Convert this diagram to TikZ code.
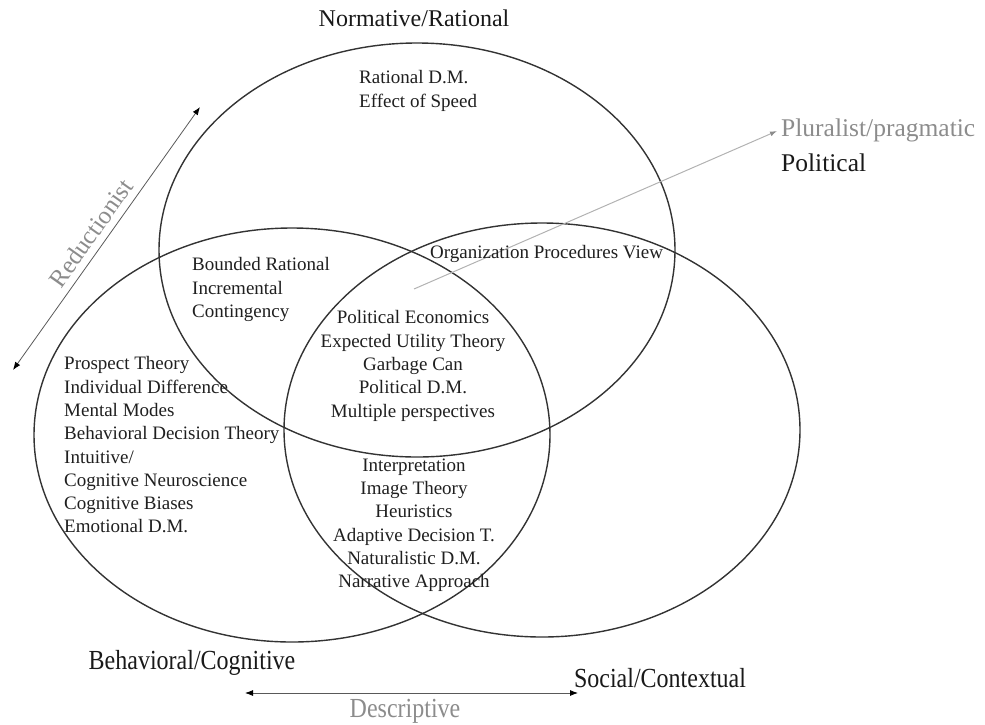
\documentclass[tikz,border=0pt]{standalone}
\usepackage{fontspec}
\setmainfont{Liberation Serif}
\usetikzlibrary{shapes.geometric,arrows.meta}
\newcommand\talltext[1]{\scalebox{1}[1.15]{#1}}
\begin{document}
\begin{tikzpicture}[x=1pt,y=-1pt,
  field/.style={draw=black!80, line width=1.4pt, ellipse, minimum width=516pt,
                minimum height=414pt, inner sep=0pt},
  body/.style={font=\fontsize{19}{23.3}\selectfont, inner sep=0pt, text=black!88},
  heading/.style={font=\fontsize{24}{28}\selectfont, inner sep=0pt, text=black!90},
  dimension/.style={font=\fontsize{24}{28}\selectfont, inner sep=0pt, text=black!45},
  axis/.style={draw=black!65, line width=0.8pt,
               {Latex[length=8pt,width=6pt,color=black]}-{Latex[length=8pt,width=6pt,color=black]}},
  trend/.style={draw=black!30, line width=1pt, -{Latex[length=7pt,width=5pt,color=black!45]}}
]
\useasboundingbox (0,0) rectangle (985,724);

% the three overlapping fields
\node[field] (normative)  at (417,250) {};
\node[field] (behavioral) at (292,435) {};
\node[field] (social)     at (542,430) {};

% field titles
\node[heading] (tNorm) at (414,18) {Normative/Rational};
\node[heading] (tBeh)  at (192,663) {\talltext{Behavioral/Cognitive}};
\node[heading] (tSoc)  at (660,678) {\talltext{Social/Contextual}};

% dimension arrows
\coordinate (redLow)  at (13,370);
\coordinate (redHigh) at (200,107);
\draw[axis] (redLow) -- (redHigh);
\node[dimension, font=\fontsize{25}{29}\selectfont, rotate=54.6] (tRed) at (91,233) {Reductionist};

\coordinate (descL) at (245,693);
\coordinate (descR) at (578,693);
\draw[axis] (descL) -- (descR);
\node[dimension] (tDesc) at (405,711) {\talltext{Descriptive}};

\coordinate (plStart) at (414,289);
\coordinate (plTip)   at (777,131);
\draw[trend] (plStart) -- (plTip);
\node[dimension, font=\fontsize{25.5}{29}\selectfont, anchor=west] (tPlur) at (781,130) {Pluralist/pragmatic};
\node[heading, font=\fontsize{25.5}{29}\selectfont, anchor=west] (tPol) at (781,163) {Political};

% approaches in each region
\node[body, anchor=north west, align=left] (rational) at (359,70.5)
  {Rational D.M.\\Effect of Speed};
\node[body, anchor=north west, align=left] (bounded) at (192,257.5)
  {Bounded Rational\\Incremental\\Contingency};
\node[body, anchor=north west] (orgview) at (430,245.5)
  {Organization Procedures View};
\node[body, anchor=north west, align=left] (cognitive) at (64,356.5)
  {Prospect Theory\\Individual Difference\\Mental Modes\\Behavioral Decision Theory\\
   Intuitive/\\Cognitive Neuroscience\\Cognitive Biases\\Emotional D.M.};
\node[body, anchor=north, align=center] (core) at (413,310.5)
  {Political Economics\\Expected Utility Theory\\Garbage Can\\Political D.M.\\Multiple perspectives};
\node[body, anchor=north, align=center] (contextual) at (414,458.5)
  {Interpretation\\Image Theory\\Heuristics\\Adaptive Decision T.\\Naturalistic D.M.\\Narrative Approach};
\end{tikzpicture}
\end{document}
